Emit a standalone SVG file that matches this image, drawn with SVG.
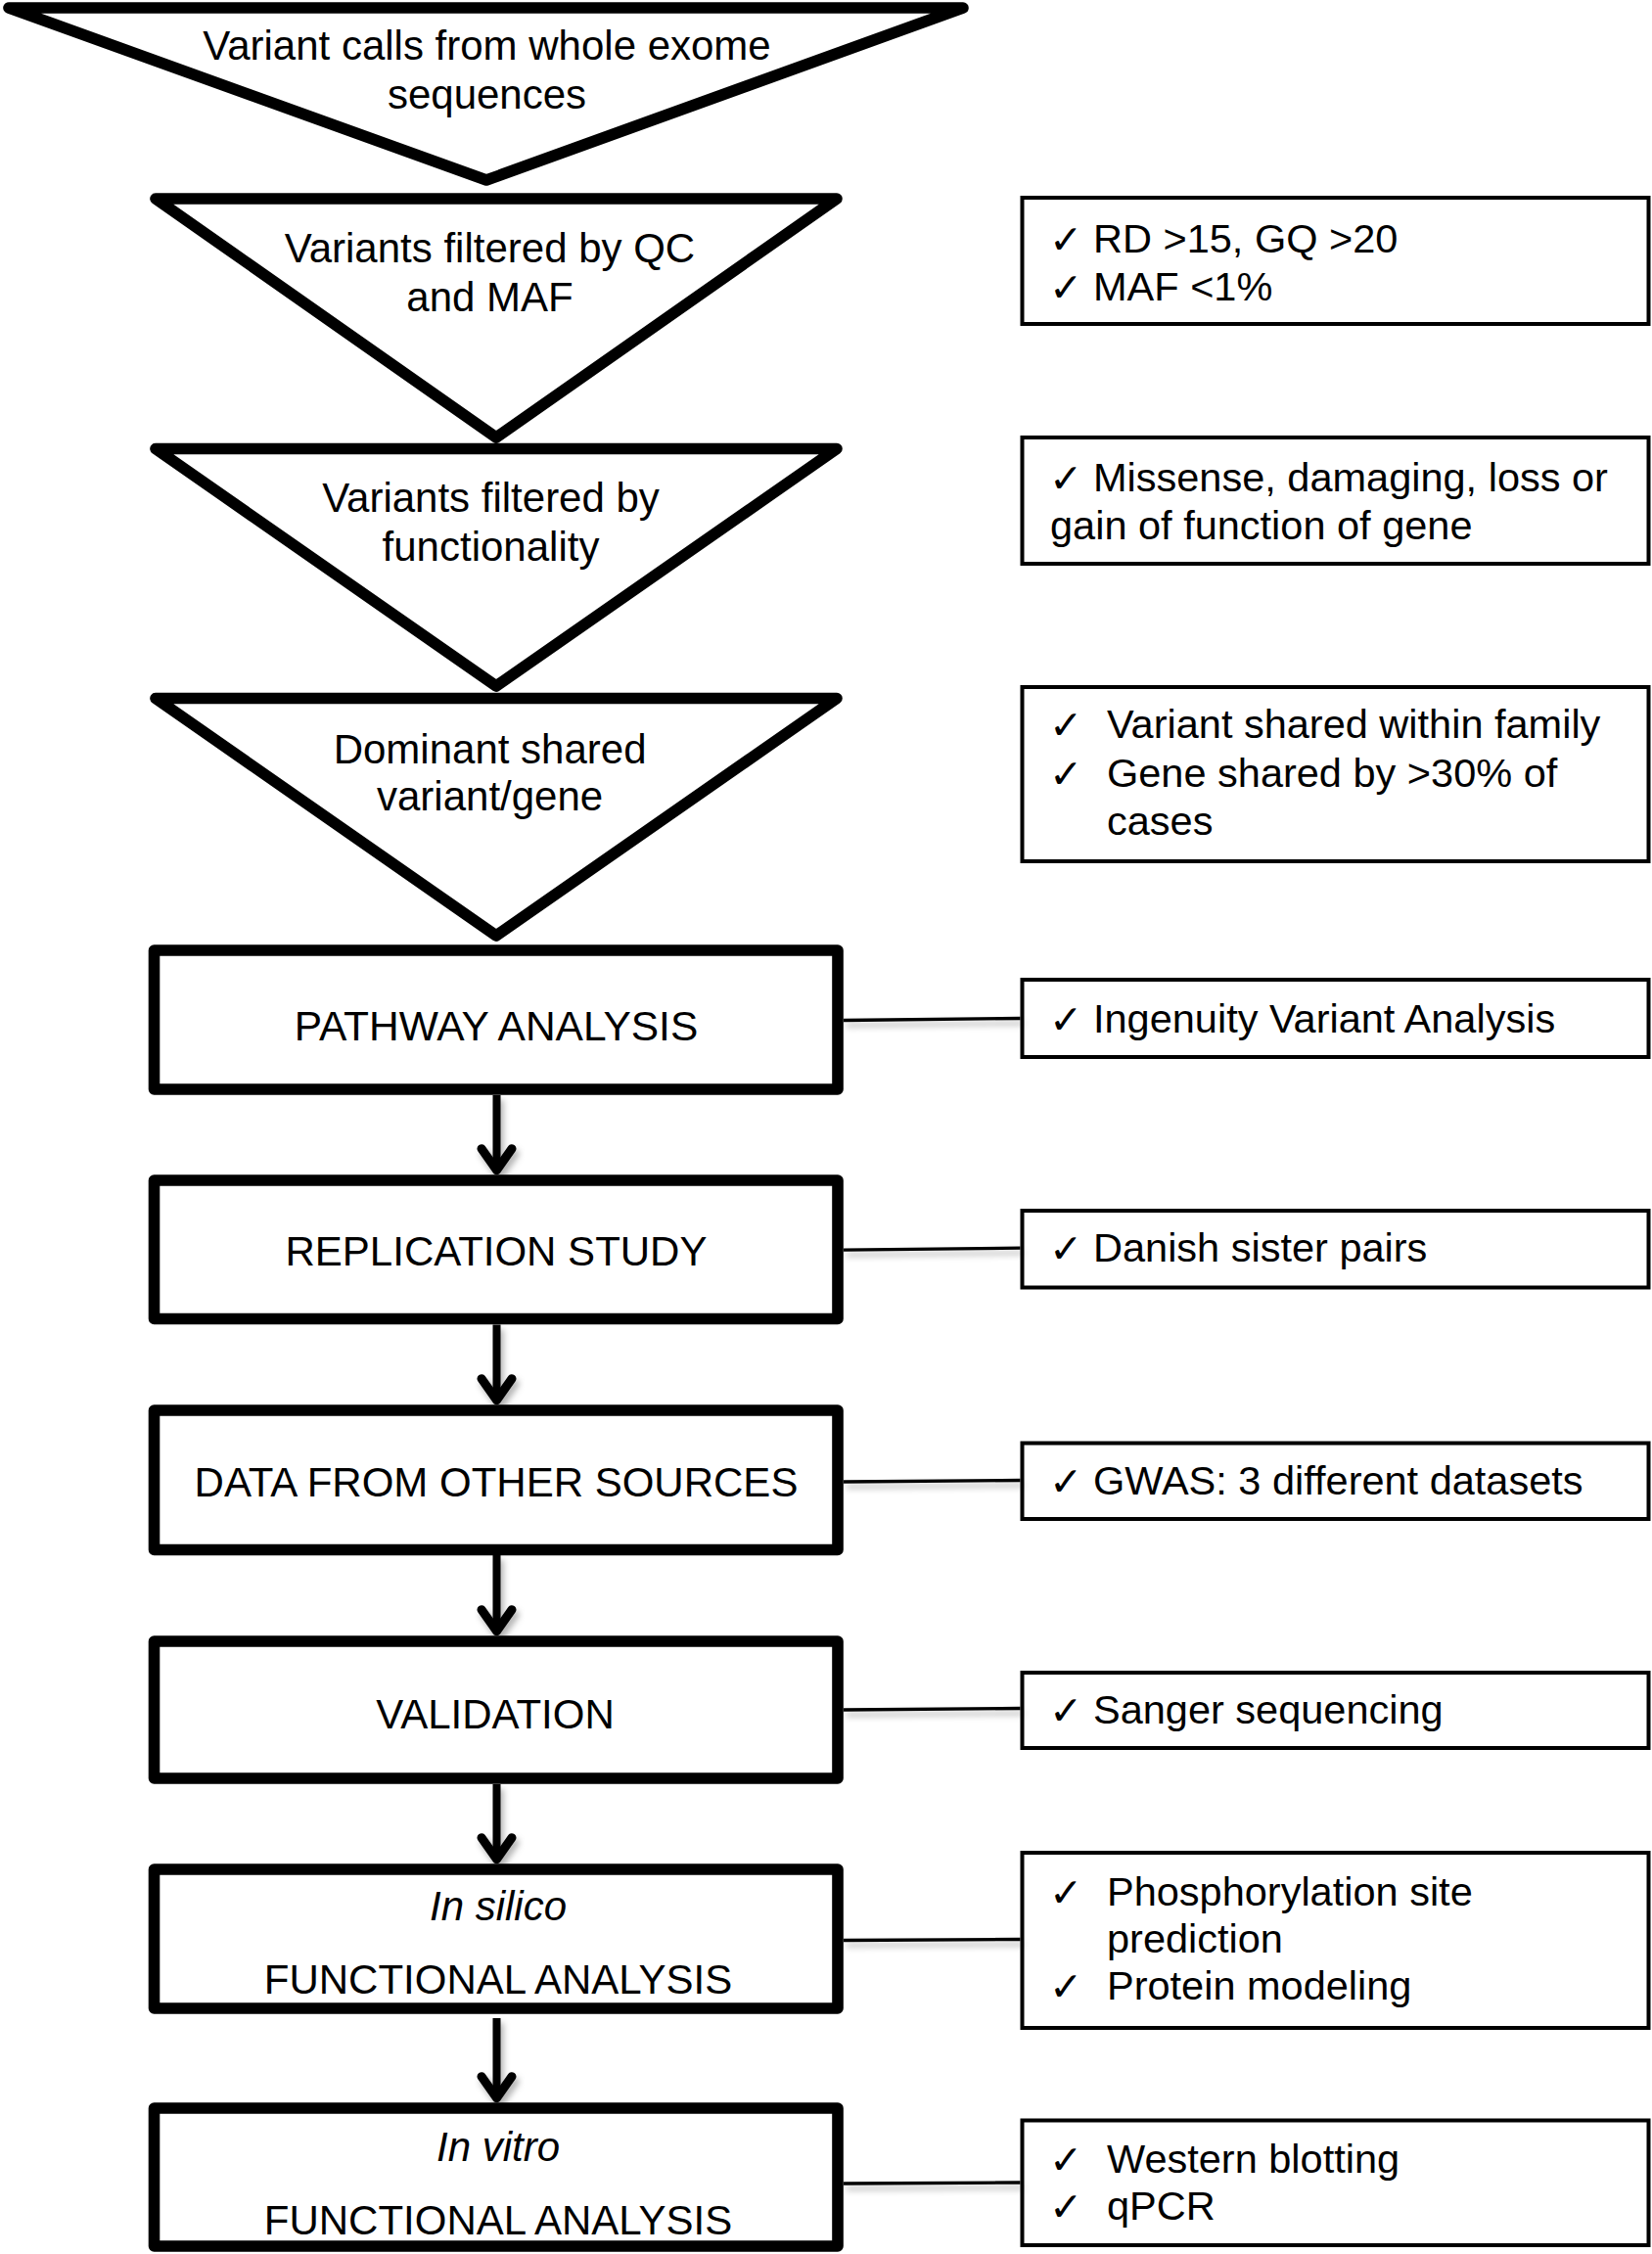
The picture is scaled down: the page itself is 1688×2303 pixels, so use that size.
<svg xmlns="http://www.w3.org/2000/svg" width="1688" height="2303" viewBox="0 0 1688 2303">
<style>
.tri{fill:#fff;stroke:#000;stroke-width:11.6;stroke-linejoin:round}
.box{fill:#fff;stroke:#000;stroke-width:11.6;stroke-linejoin:round}
.sbox{fill:#fff;stroke:#000;stroke-width:4}
.t{font-family:'Liberation Sans',Arial,sans-serif;font-size:42px;fill:#000}
.s{font-size:41.5px}
.c{text-anchor:middle}
.i{font-style:italic}
.chk{font-family:'DejaVu Sans',sans-serif;font-size:41px;font-weight:bold;fill:#000}
.arrow{stroke:#000;stroke-width:8;fill:none}
.link{stroke:#000;stroke-width:3.3;fill:none}
</style>
<defs>
<marker id="chev" markerUnits="userSpaceOnUse" orient="auto" refX="0" refY="0" markerWidth="60" markerHeight="60" overflow="visible">
<path d="M-22,-15.5 L0,0 L-22,15.5" fill="none" stroke="#000" stroke-width="9" stroke-linecap="round" stroke-linejoin="round"/>
</marker>
<filter id="sh" x="-20%" y="-20%" width="140%" height="160%">
<feDropShadow dx="3" dy="5" stdDeviation="3" flood-color="#000" flood-opacity="0.3"/>
</filter>
</defs>
<rect width="1688" height="2303" fill="#fff"/>

<g id="tri1">
<polygon class="tri" points="9,8 984,8 497,184"/>
<text class="t c" x="497.5" y="61">Variant calls from whole exome</text>
<text class="t c" x="497.5" y="111">sequences</text>
</g>
<g id="tri2">
<polygon class="tri" points="159,203 855,203 507,447"/>
<text class="t c" x="500.5" y="268">Variants filtered by QC</text>
<text class="t c" x="500.5" y="318">and MAF</text>
</g>
<g id="tri3">
<polygon class="tri" points="159,458.5 855,458.5 507,701"/>
<text class="t c" x="501.5" y="523">Variants filtered by</text>
<text class="t c" x="501.5" y="573">functionality</text>
</g>
<g id="tri4">
<polygon class="tri" points="159,713.5 855,713.5 507,956"/>
<text class="t c" x="500.6" y="780">Dominant shared</text>
<text class="t c" x="500.6" y="828">variant/gene</text>
</g>

<g id="box1">
<rect class="box" x="157.5" y="971" width="698.5" height="142"/>
<text class="t c" x="507" y="1063" style="font-size:42.5px">PATHWAY ANALYSIS</text>
</g>
<g id="box2">
<rect class="box" x="157.5" y="1206" width="698.5" height="141.5"/>
<text class="t c" x="507" y="1293">REPLICATION STUDY</text>
</g>
<g id="box3">
<rect class="box" x="157.5" y="1441" width="698.5" height="142.5"/>
<text class="t c" x="507" y="1529">DATA FROM OTHER SOURCES</text>
</g>
<g id="box4">
<rect class="box" x="157.5" y="1677" width="698.5" height="140"/>
<text class="t c" x="506" y="1766">VALIDATION</text>
</g>
<g id="box5">
<rect class="box" x="157.5" y="1910" width="698.5" height="142"/>
<text class="t c i" x="509" y="1962">In silico</text>
<text class="t c" x="509" y="2037">FUNCTIONAL ANALYSIS</text>
</g>
<g id="box6">
<rect class="box" x="157.5" y="2154" width="698.5" height="141"/>
<text class="t c i" x="509" y="2208">In vitro</text>
<text class="t c" x="509" y="2283">FUNCTIONAL ANALYSIS</text>
</g>

<g id="side1">
<rect class="sbox" x="1044.5" y="202" width="640" height="129"/>
<text class="chk" x="1072" y="259">✓</text>
<text class="t s" x="1117" y="258">RD &gt;15, GQ &gt;20</text>
<text class="chk" x="1072" y="308">✓</text>
<text class="t s" x="1117" y="307">MAF &lt;1%</text>
</g>
<g id="side2">
<rect class="sbox" x="1044.5" y="447" width="640" height="129"/>
<text class="chk" x="1072" y="503">✓</text>
<text class="t s" x="1117" y="502">Missense, damaging, loss or</text>
<text class="t s" x="1073" y="551">gain of function of gene</text>
</g>
<g id="side3">
<rect class="sbox" x="1044.5" y="702" width="640" height="178"/>
<text class="chk" x="1072" y="755">✓</text>
<text class="t s" x="1131" y="754">Variant shared within family</text>
<text class="chk" x="1072" y="805">✓</text>
<text class="t s" x="1131" y="804">Gene shared by &gt;30% of</text>
<text class="t s" x="1131" y="853">cases</text>
</g>
<g id="side4">
<rect class="sbox" x="1044.5" y="1001" width="640" height="79"/>
<text class="chk" x="1072" y="1056">✓</text>
<text class="t s" x="1117" y="1055">Ingenuity Variant Analysis</text>
</g>
<g id="side5">
<rect class="sbox" x="1044.5" y="1237" width="640" height="78.5"/>
<text class="chk" x="1072" y="1290">✓</text>
<text class="t s" x="1117" y="1289">Danish sister pairs</text>
</g>
<g id="side6">
<rect class="sbox" x="1044.5" y="1474.5" width="640" height="77.5"/>
<text class="chk" x="1072" y="1528">✓</text>
<text class="t s" x="1117" y="1527">GWAS: 3 different datasets</text>
</g>
<g id="side7">
<rect class="sbox" x="1044.5" y="1709" width="640" height="77"/>
<text class="chk" x="1072" y="1762">✓</text>
<text class="t s" x="1117" y="1761">Sanger sequencing</text>
</g>
<g id="side8">
<rect class="sbox" x="1044.5" y="1893" width="640" height="179"/>
<text class="chk" x="1072" y="1948">✓</text>
<text class="t s" x="1131" y="1947">Phosphorylation site</text>
<text class="t s" x="1131" y="1995">prediction</text>
<text class="chk" x="1072" y="2044">✓</text>
<text class="t s" x="1131" y="2043">Protein modeling</text>
</g>
<g id="side9">
<rect class="sbox" x="1044.5" y="2166.5" width="640" height="127.5"/>
<text class="chk" x="1072" y="2221">✓</text>
<text class="t s" x="1131" y="2220">Western blotting</text>
<text class="chk" x="1072" y="2269">✓</text>
<text class="t s" x="1131" y="2268">qPCR</text>
</g>

<g id="connectors" filter="url(#sh)">
<path class="arrow" d="M507.5,1119 V1195.7" marker-end="url(#chev)"/>
<path class="arrow" d="M507.5,1353.5 V1430.7" marker-end="url(#chev)"/>
<path class="arrow" d="M507.5,1589 V1666.7" marker-end="url(#chev)"/>
<path class="arrow" d="M507.5,1823 V1899.7" marker-end="url(#chev)"/>
<path class="arrow" d="M507.5,2062 V2143.7" marker-end="url(#chev)"/>
<path class="link" d="M862,1042.5 L1042.5,1040.5"/>
<path class="link" d="M862,1277.2 L1042.5,1275.2"/>
<path class="link" d="M862,1514 L1042.5,1512.5"/>
<path class="link" d="M862,1747 L1042.5,1745.5"/>
<path class="link" d="M862,1982.5 L1042.5,1981.5"/>
<path class="link" d="M862,2231 L1042.5,2230"/>
</g>
</svg>
